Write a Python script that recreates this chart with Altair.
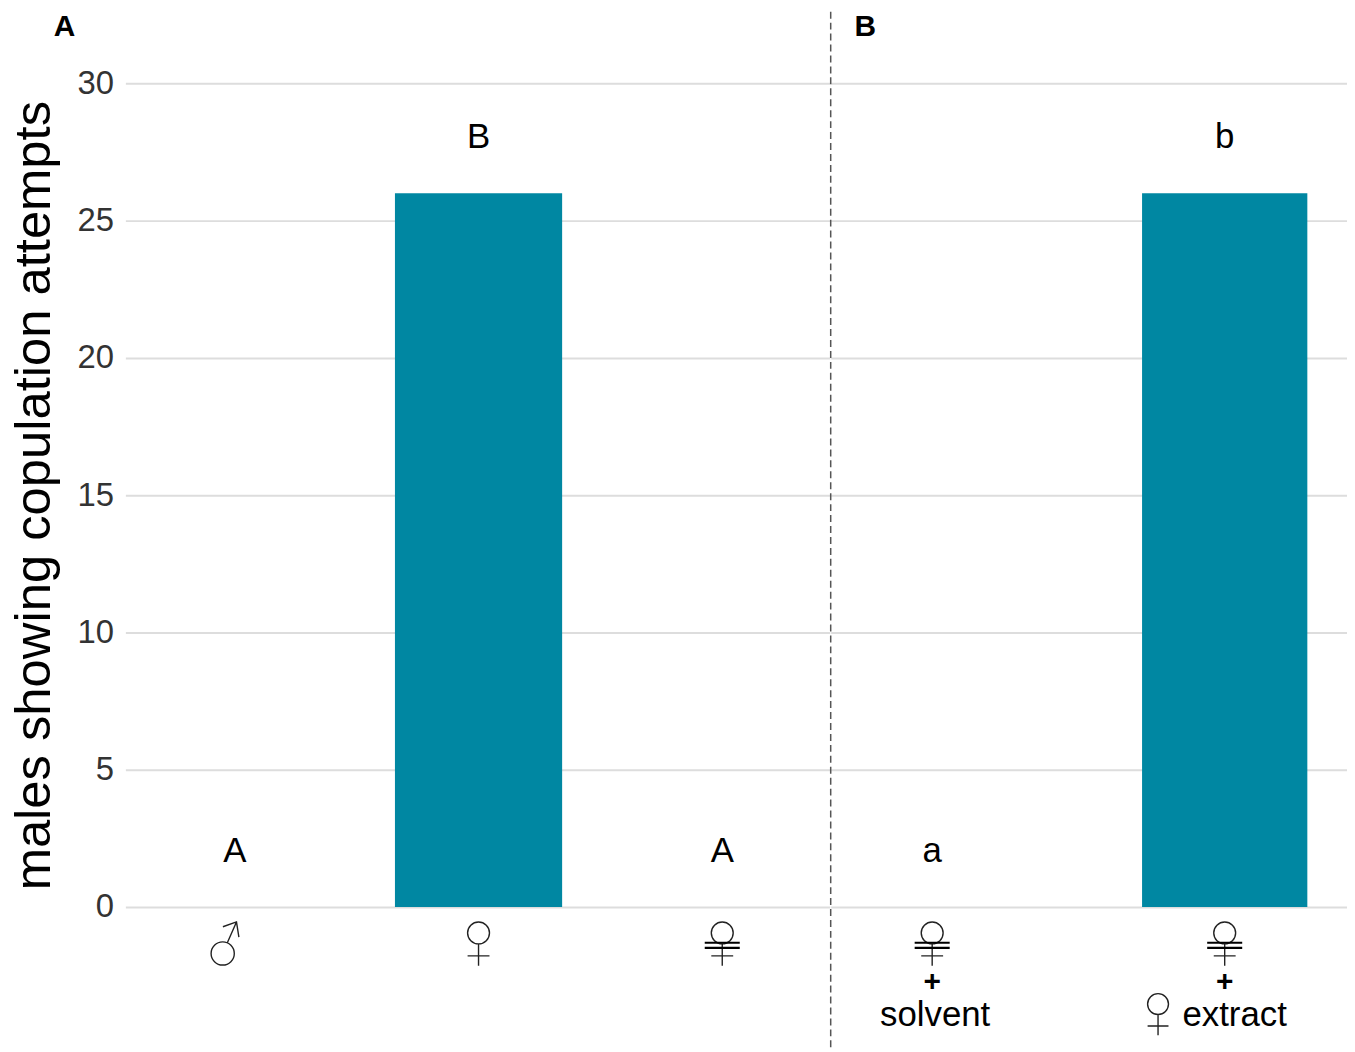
import altair as alt
import pandas as pd

# ---- data ----
cats_a = ["male", "female", "washed female"]
vals_a = [0, 26, 0]
letters_a = ["A", "B", "A"]
sex_a = ["male", "female", "female"]
washed_a = [False, False, True]

cats_b = ["washed female + solvent", "washed female + female extract"]
vals_b = [0, 26]
letters_b = ["a", "b"]
sex_b = ["female", "female"]
washed_b = [True, True]
line3_b = ["solvent", "extract"]
line3_sym_b = [False, True]

y_ticks = [0, 5, 10, 15, 20, 25, 30]
y_title = "males showing copulation attempts"
panel_a = "A"
panel_b = "B"

# ---- styling ----
BAR = "#0087A2"
FONT = "Liberation Sans"
W_A, W_B, H = 708, 519, 828
LETTER_OFFSET = 1.65

FEMALE = ("M0.5,-0.5A0.5,0.5,0,1,1,-0.5,-0.5A0.5,0.5,0,1,1,0.5,-0.5"
          "M0,0L0,1M-0.5,0.55L0.5,0.55")
MALE = ("M0.43,0.44A0.53,0.53,0,1,1,-0.63,0.44A0.53,0.53,0,1,1,0.43,0.44"
        "M0.112,-0.046L0.53,-1M-0.09,-0.78L0.53,-1L0.64,-0.31")
WASH = "M-0.8,-0.05L0.8,-0.05M-0.8,0.18L0.8,0.18"
SYM_SIZE = 44 * 44
SYM_Y = H + 37

df_a = pd.DataFrame({"cat": cats_a, "val": vals_a, "letter": letters_a,
                     "sex": sex_a, "washed": washed_a})
df_b = pd.DataFrame({"cat": cats_b, "val": vals_b, "letter": letters_b,
                     "sex": sex_b, "washed": washed_b,
                     "l3": line3_b, "l3sym": line3_sym_b})

yscale = alt.Scale(domain=[0, 30], nice=False, zero=True)


def sym_layer(base, x, path, size, y, stroke_w, xoff=0, color="#222222"):
    return base.mark_point(shape=path, size=size, filled=False, opacity=1,
                           stroke=color, strokeWidth=stroke_w,
                           xOffset=xoff).encode(x=x, y=alt.value(y))


def panel(df, cats, pi, po, al, left_axis, title_text, title_dx):
    x = alt.X("cat:N", sort=cats, axis=None,
              scale=alt.Scale(paddingInner=pi, paddingOuter=po, align=al))
    if left_axis:
        yaxis = alt.Axis(values=y_ticks, title=y_title, grid=True)
    else:
        yaxis = alt.Axis(values=y_ticks, title=None, grid=True, labels=False)
    base = alt.Chart(df)
    bars = base.mark_bar(color=BAR).encode(
        x=x, y=alt.Y("val:Q", scale=yscale, axis=yaxis))
    letters = base.transform_calculate(ly=f"datum.val + {LETTER_OFFSET}").mark_text(
        font=FONT, fontSize=35, baseline="alphabetic", color="black"
    ).encode(x=x, y=alt.Y("ly:Q", scale=yscale), text="letter:N")
    fem = sym_layer(base.transform_filter("datum.sex == 'female'"), x, FEMALE,
                    SYM_SIZE, SYM_Y, 1.4)
    mal = sym_layer(base.transform_filter("datum.sex == 'male'"), x, MALE,
                    SYM_SIZE, SYM_Y, 1.4, xoff=-10)
    wash = sym_layer(base.transform_filter("datum.washed"), x, WASH,
                     SYM_SIZE, SYM_Y, 2.2, color="black")
    ttl = alt.Chart(pd.DataFrame({"t": [title_text]})).mark_text(
        font=FONT, fontSize=30, fontWeight="bold", baseline="alphabetic", align="left",
        color="black"
    ).encode(x=alt.value(title_dx), y=alt.value(-48), text="t:N")
    return [bars, letters, fem, mal, wash, ttl], x, base


layers_a, xa, base_a = panel(df_a, cats_a, 0.314, 0.102, 0.52, True, panel_a, -72)
layers_b, xb, base_b = panel(df_b, cats_b, 0.435, 0.1, 0.322, False, panel_b, 24)

plus = base_b.mark_text(font=FONT, fontSize=30, fontWeight="bold",
                        baseline="middle", color="black", text="+").encode(
    x=xb, y=alt.value(H + 75))
l3_plain = base_b.transform_filter("!datum.l3sym").mark_text(
    font=FONT, fontSize=35, baseline="alphabetic", color="black", dx=3).encode(
    x=xb, y=alt.value(H + 120), text="l3:N")
l3_ext = base_b.transform_filter("datum.l3sym").mark_text(
    font=FONT, fontSize=35, baseline="alphabetic", color="black", dx=10).encode(
    x=xb, y=alt.value(H + 120), text="l3:N")
l3sym = sym_layer(base_b.transform_filter("datum.l3sym"), xb, FEMALE,
                  42 * 42, H + 108, 1.4, xoff=-67)
dash = alt.Chart(pd.DataFrame({"d": [0]})).mark_rule(
    strokeDash=[7, 4], color="#555555", strokeWidth=1.5).encode(
    x=alt.value(0), y=alt.value(-72), y2=alt.value(H + 144))

chart_a = alt.layer(*layers_a).properties(width=W_A, height=H)
chart_b = alt.layer(*(layers_b + [plus, l3_plain, l3_ext, l3sym, dash])).properties(
    width=W_B, height=H)

chart = alt.hconcat(chart_a, chart_b, spacing=0).properties(
    padding={"left": 0, "top": 0, "right": 0, "bottom": 0}
).configure_view(stroke=None).configure_axis(
    domain=False, ticks=False, gridColor="#dddddd", gridWidth=2,
    labelFont=FONT, labelFontSize=33, labelColor="#333333", labelPadding=12,
    titleFont=FONT, titleFontSize=51, titleFontWeight="normal", titleColor="black",
    titlePadding=17
)

chart.save("out.html", embed_options={"renderer": "svg", "actions": False})
